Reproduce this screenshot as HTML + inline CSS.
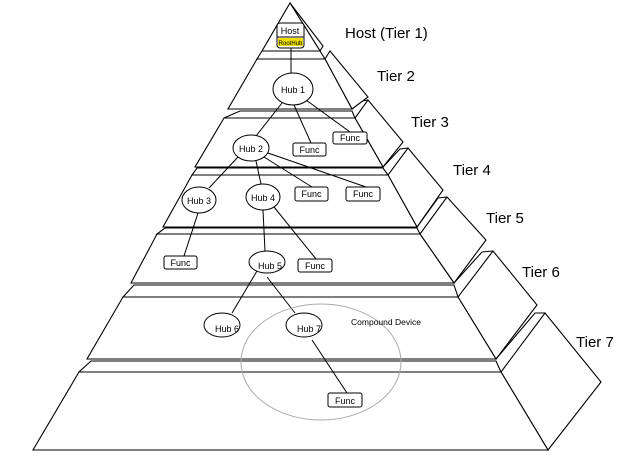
<!DOCTYPE html>
<html><head><meta charset="utf-8"><style>
html,body{margin:0;padding:0;background:#fff;}
svg{display:block;}
text{font-family:"Liberation Sans",sans-serif;}
</style></head><body>
<svg width="631" height="456" viewBox="0 0 631 456" xmlns="http://www.w3.org/2000/svg">
<g fill="#fff" stroke="#000" stroke-width="1.1" stroke-linejoin="miter">
<!-- Tier 7 -->
<polygon points="545,313 601,382 548,450 501,372"/>
<polyline points="496,359 535,313 545,313" fill="none"/>
<polygon points="91,361 496,361 501,372 79,372"/>
<polygon points="79,372 501,372 548,450 33,450"/>
<!-- Tier 6 -->
<polygon points="493,251 537,305 496,359 458,297"/>
<polyline points="454,283 482,252 493,251" fill="none"/>
<polygon points="134,285 454,285 458,297 123,297"/>
<polygon points="123,297 458,297 496,359 87,359"/>
<!-- Tier 5 -->
<polygon points="447,197 486,240 454,283 420,234"/>
<polyline points="417,227 438,198 447,197" fill="none"/>
<polygon points="165,228 417,228 420,234 157,234"/>
<polygon points="157,234 420,234 454,283 131,283"/>
<!-- Tier 4 -->
<polygon points="408,148 443,190 417,227 388,175"/>
<polyline points="383,167 400,149 408,148" fill="none"/>
<polygon points="197,168 383,168 388,175 192,175"/>
<polygon points="192,175 388,175 417,227 163,227"/>
<!-- Tier 3 -->
<polygon points="368,100 403,142 383,167 355,118"/>
<polyline points="352,109 362,101 368,100" fill="none"/>
<polygon points="240,111 352,111 355,118 224,118"/>
<polygon points="224,118 355,118 383,167 195,167"/>
<!-- Tier 2 -->
<polygon points="330,51 368,97 352,109 325,59"/>
<polygon points="262,51 320,51 325,59 257,59"/>
<polygon points="257,59 325,59 352,109 228,109"/>
<!-- Tier 1 -->
<polygon points="290,3 323,46 320,51"/>
<polygon points="290,3 320,51 262,51"/>
</g>
<!-- connectors -->
<g stroke="#000" stroke-width="1" fill="none">
<line x1="291" y1="48" x2="291" y2="73"/>
<line x1="282" y1="103" x2="256" y2="136"/>
<line x1="294" y1="105" x2="311" y2="143"/>
<line x1="306" y1="100" x2="350" y2="132"/>
<line x1="238" y1="157" x2="209" y2="188"/>
<line x1="256" y1="161" x2="261" y2="184"/>
<line x1="264" y1="157" x2="312" y2="187"/>
<line x1="268" y1="153" x2="366" y2="187"/>
<line x1="198" y1="213" x2="184" y2="256"/>
<line x1="263" y1="210" x2="265" y2="251"/>
<line x1="274" y1="207" x2="316" y2="259"/>
<line x1="257" y1="271" x2="232" y2="313"/>
<line x1="267" y1="277" x2="295" y2="313"/>
<line x1="312" y1="340" x2="347" y2="393"/>
</g>
<ellipse cx="321" cy="362" rx="80" ry="58" fill="none" stroke="#aaa" stroke-width="1"/>
<!-- nodes -->
<g fill="#fff" stroke="#000" stroke-width="1">
<rect x="277" y="23" width="27" height="25" rx="3"/>
<ellipse cx="293" cy="89" rx="20" ry="16"/>
<ellipse cx="251" cy="148" rx="18" ry="13"/>
<ellipse cx="199" cy="200" rx="17" ry="13"/>
<ellipse cx="263" cy="197" rx="17" ry="13"/>
<ellipse cx="267" cy="262" rx="18" ry="11"/>
<ellipse cx="222" cy="325" rx="18" ry="12"/>
<ellipse cx="304" cy="325" rx="18" ry="12"/>
<rect x="333" y="132" width="34" height="12" rx="2"/>
<rect x="293" y="143" width="33" height="13" rx="2"/>
<rect x="295" y="187" width="33" height="14" rx="2"/>
<rect x="346" y="187" width="34" height="14" rx="2"/>
<rect x="164" y="256" width="33" height="13" rx="2"/>
<rect x="298" y="259" width="34" height="13" rx="2"/>
<rect x="328" y="393" width="34" height="14" rx="2"/>
</g>
<rect x="278" y="38" width="25" height="8" fill="#f0e000"/>
<line x1="277" y1="37" x2="304" y2="37" stroke="#000" stroke-width="1"/>
<g font-size="9" text-anchor="middle" fill="#000">
<text x="290" y="34">Host</text>
<text x="290.5" y="45" font-size="6">RootHub</text>
<text x="293" y="93">Hub 1</text>
<text x="251" y="152">Hub 2</text>
<text x="199" y="204">Hub 3</text>
<text x="263" y="201">Hub 4</text>
<text x="270" y="269">Hub 5</text>
<text x="227" y="332">Hub 6</text>
<text x="309" y="332">Hub 7</text>
<text x="350" y="141">Func</text>
<text x="309.5" y="153">Func</text>
<text x="311.5" y="197">Func</text>
<text x="363" y="197">Func</text>
<text x="180.5" y="266">Func</text>
<text x="315" y="269">Func</text>
<text x="345" y="404">Func</text>
<text x="386" y="325" font-size="8.5">Compound Device</text>
</g>
<g font-size="15" fill="#000">
<text x="345" y="38">Host (Tier 1)</text>
<text x="377" y="81">Tier 2</text>
<text x="411" y="127">Tier 3</text>
<text x="453" y="175">Tier 4</text>
<text x="486" y="223">Tier 5</text>
<text x="522" y="277">Tier 6</text>
<text x="576" y="347">Tier 7</text>
</g>
</svg>
</body></html>
